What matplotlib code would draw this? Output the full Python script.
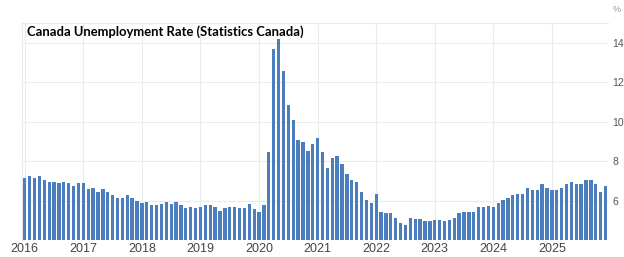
import matplotlib
matplotlib.use("Agg")
import matplotlib.pyplot as plt

# monthly unemployment rate, Jan 2016 .. Dec 2025
rate_2016 = [7.16, 7.23, 7.16, 7.23, 7.06, 6.94, 6.94, 6.87, 6.94, 6.87, 6.75, 6.87]
rate_2017 = [6.87, 6.57, 6.64, 6.45, 6.57, 6.45, 6.26, 6.14, 6.14, 6.26, 6.14, 5.97]
rate_2018 = [5.87, 5.94, 5.77, 5.77, 5.85, 5.94, 5.85, 5.94, 5.77, 5.60, 5.68, 5.60]
rate_2019 = [5.68, 5.75, 5.75, 5.68, 5.46, 5.60, 5.68, 5.68, 5.60, 5.60, 5.85, 5.55]
rate_2020 = [5.43, 5.76, 8.48, 13.66, 14.17, 12.59, 10.86, 10.10, 9.08, 8.96, 8.53, 8.86]
rate_2021 = [9.17, 8.47, 7.64, 8.15, 8.25, 7.87, 7.35, 7.04, 6.93, 6.45, 6.03, 5.86]
rate_2022 = [6.33, 5.43, 5.36, 5.36, 5.14, 4.84, 4.74, 5.14, 5.04, 5.04, 4.97, 4.97]
rate_2023 = [5.02, 5.02, 4.96, 5.02, 5.14, 5.38, 5.43, 5.43, 5.43, 5.65, 5.65, 5.74]
rate_2024 = [5.65, 5.86, 6.03, 6.14, 6.26, 6.35, 6.35, 6.64, 6.55, 6.55, 6.86, 6.64]
rate_2025 = [6.55, 6.55, 6.64, 6.86, 6.94, 6.86, 6.86, 7.04, 7.04, 6.86, 6.45, 6.75]

years = ["2016", "2017", "2018", "2019", "2020", "2021", "2022", "2023", "2024", "2025"]
y_ticks = [6, 8, 10, 12, 14]

rates = (rate_2016 + rate_2017 + rate_2018 + rate_2019 + rate_2020 +
         rate_2021 + rate_2022 + rate_2023 + rate_2024 + rate_2025)
months = list(range(len(rates)))
year_pos = [12 * i for i in range(len(years))]

fig = plt.figure(figsize=(6.24, 2.57), dpi=100)
ax = fig.add_axes([22 / 624, 1 - 240 / 257, 586 / 624, 217 / 257])

bottom = 4
ax.bar(months, [r - bottom for r in rates], bottom=bottom, width=0.68,
       color="#4a7ebf", zorder=3)

ax.set_xlim(-0.57, 119.5)
ax.set_ylim(4, 15)

# light grid
for yv in y_ticks:
    ax.axhline(yv, color="#ebebeb", lw=0.8, zorder=1)
for xv in year_pos:
    ax.axvline(xv, color="#ebebeb", lw=0.8, zorder=1)

for side in ["right", "bottom"]:
    ax.spines[side].set_visible(False)
for side in ["top", "left"]:
    ax.spines[side].set_color("#ebebeb")
    ax.spines[side].set_linewidth(0.8)

ax.set_xticks(year_pos)
ax.set_xticklabels(years, family="Liberation Sans", fontsize=9, color="#444444")
ax.yaxis.tick_right()
ax.set_yticks(y_ticks)
ax.set_yticklabels([str(t) for t in y_ticks], family="Liberation Sans",
                   fontsize=7.5, color="#555555")
ax.tick_params(axis="both", length=0)
ax.tick_params(axis="x", pad=2)
ax.tick_params(axis="y", pad=3)

fig.text(613 / 624, 1 - 9 / 257, "%", family="Liberation Sans", fontsize=6.5,
         color="#999999", ha="left", va="center")

ax.text(5 / 586, 1 - 9 / 217, "Canada Unemployment Rate (Statistics Canada)",
        transform=ax.transAxes, family="Lato", fontweight="bold", fontsize=9.4,
        color="black", ha="left", va="center", zorder=5)

fig.savefig("out.png", dpi=100)
